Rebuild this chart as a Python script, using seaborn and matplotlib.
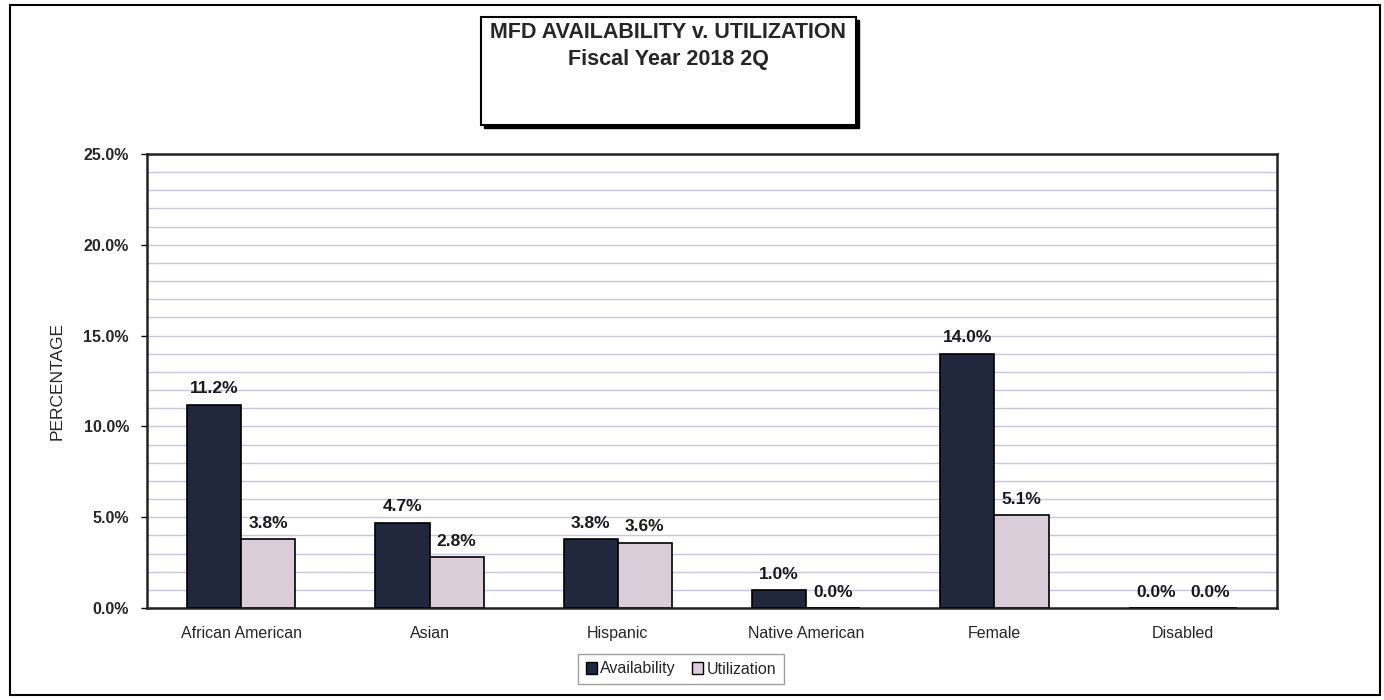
import pandas as pd
import numpy as np
import matplotlib.pyplot as plt
import seaborn as sns
from matplotlib.patches import Rectangle, Patch

# data
groups = ['African American', 'Asian', 'Hispanic', 'Native American', 'Female', 'Disabled']
availability = [11.2, 4.7, 3.8, 1.0, 14.0, 0.0]
utilization = [3.8, 2.8, 3.6, 0.0, 5.1, 0.0]
series = ['Availability', 'Utilization']
yticks = [0, 5, 10, 15, 20, 25]

df = pd.DataFrame({
    'group': groups * 2,
    'series': [series[0]] * len(groups) + [series[1]] * len(groups),
    'value': availability + utilization,
})

sns.set_theme(style="white")
plt.rcParams['font.family'] = ['Liberation Sans', 'DejaVu Sans']

colors = {'Availability': '#1c2541', 'Utilization': '#dccbdc'}

fig = plt.figure(figsize=(13.84, 7), dpi=100)
W, H = 1384, 700
ax = fig.add_axes([147 / W, (H - 608) / H, 1130 / W, 454 / H])

sns.barplot(data=df, x='group', y='value', hue='series', order=groups,
            hue_order=series, palette=colors, width=0.575, edgecolor='black',
            linewidth=1.2, legend=False, ax=ax, zorder=3)

for cont in ax.containers:
    ax.bar_label(cont, fmt='%.1f%%', padding=6, fontsize=12.5, fontweight='bold',
                 color='#1a1a1a')

ax.set_ylim(0, 25)
ax.set_xlim(-0.5, len(groups) - 0.5)
ax.set_yticks(yticks)
ax.set_yticklabels([f'{v:.1f}%' for v in yticks], fontsize=11.5, fontweight='bold')
ax.set_yticks(np.arange(0, 26, 1), minor=True)
ax.yaxis.grid(True, which='both', color='#c9c6e2', linewidth=1.0, zorder=0)
ax.set_axisbelow(True)
ax.tick_params(axis='y', which='major', left=True, length=4, width=1, color='black', pad=9)
ax.tick_params(axis='x', bottom=False, labelsize=11.5, pad=7)
ax.set_xlabel('')
ax.set_ylabel('PERCENTAGE', fontsize=12.5)
ax.yaxis.set_label_coords(-0.073, 0.5)
for sp in ax.spines.values():
    sp.set_visible(True)
    sp.set_color('#222222')
    sp.set_linewidth(1.8)

# outer frame
fig.patches.append(Rectangle((10 / W, 5 / H), 1370 / W, 690 / H, transform=fig.transFigure,
                             fill=False, edgecolor='black', linewidth=1.5))

# title box with shadow
bx, by, bw, bh = 481 / W, 1 - 125 / H, 375 / W, 108 / H
fig.patches.append(Rectangle((bx + 3 / W, by - 3 / H), bw, bh, transform=fig.transFigure,
                             facecolor='black', edgecolor='black', zorder=1))
fig.patches.append(Rectangle((bx, by), bw, bh, transform=fig.transFigure,
                             facecolor='white', edgecolor='black', linewidth=1.5, zorder=2))
fig.text(668 / W, 1 - 33 / H, 'MFD AVAILABILITY v. UTILIZATION', ha='center', va='center',
         fontsize=15.5, fontweight='bold', zorder=3)
fig.text(668 / W, 1 - 60 / H, 'Fiscal Year 2018 2Q', ha='center', va='center',
         fontsize=15.5, fontweight='bold', zorder=3)

handles = [Patch(facecolor=colors[s], edgecolor='black', label=s) for s in series]
leg = fig.legend(handles=handles, loc='center', bbox_to_anchor=(681 / W, 1 - 669 / H),
                 ncol=2, fontsize=11.5, frameon=True, fancybox=False, edgecolor='#888888',
                 handlelength=0.7, handleheight=0.7, handletextpad=0.2, columnspacing=1.0,
                 borderpad=0.5)
leg.get_frame().set_linewidth(1.0)

fig.savefig('out.png', dpi=100)
